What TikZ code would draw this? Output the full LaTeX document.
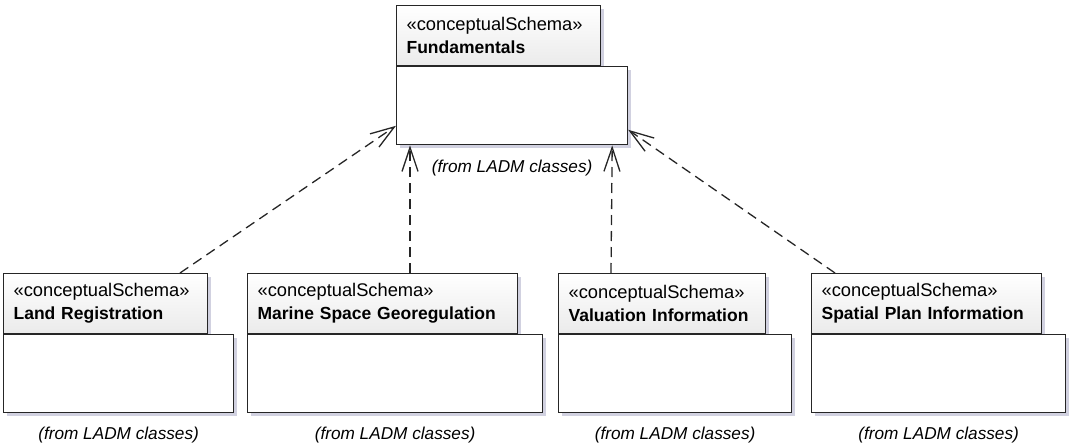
\documentclass[tikz,border=0pt]{standalone}
\usepackage{fontspec}
\setmainfont{Liberation Sans}
\usetikzlibrary{arrows.meta,shadows}

\begin{document}
\begin{tikzpicture}[x=1pt,y=-1pt]

    \tikzset{
      tab/.style={
        draw=black!85,
        line width=1.2pt,
        anchor=north west,
        align=left,
        text width=#1,
        inner xsep=10pt,
        inner ysep=0pt,
        minimum height=60pt,
        top color=white,
        bottom color=gray!16,
        drop shadow={shadow xshift=3pt,shadow yshift=-3pt,fill=blue!20!gray!60,opacity=0.5},
        font=\fontsize{17.5}{23}\selectfont,
      },
      body/.style={
        draw=black!85,
        line width=1.2pt,
        anchor=north west,
        fill=white,
        inner sep=0pt,
        minimum width=#1,
        minimum height=78pt,
        drop shadow={shadow xshift=3pt,shadow yshift=-3pt,fill=blue!20!gray!60,opacity=0.5},
      },
      from/.style={
        anchor=base,
        font=\fontsize{17.2}{20}\selectfont\itshape,
      },
      dep/.style={
        draw=black!85,
        line width=1.3pt,
        dash pattern=on 10pt off 6pt,
        -{Straight Barb[length=24pt,width=16pt]},
      },
    }
    \newcommand{\stereo}{{\fontsize{18.3}{23}\selectfont«conceptualSchema»}}
    \useasboundingbox (0,0) rectangle (1070,446);

	% top package
	\node[tab=184pt] (fundtab) at (396,5) {\stereo\\\textbf{Fundamentals}};
	\node[body=231pt] (fundbody) at (fundtab.south west) {};
	\node[from] (fundfrom) at ([yshift=-27pt]fundbody.south) {(from LADM classes)};

	% lower packages
	\node[tab=184pt] (lrtab) at (3,273) {\stereo\\\textbf{Land Registration}};
	\node[body=230pt] (lrbody) at (lrtab.south west) {};
	\node[from] (lrfrom) at ([yshift=-26pt]lrbody.south) {(from LADM classes)};

	\node[tab=250pt] (mstab) at (247,273) {\stereo\\\textbf{Marine Space Georegulation}};
	\node[body=295pt] (msbody) at (mstab.south west) {};
	\node[from] (msfrom) at ([yshift=-26pt]msbody.south) {(from LADM classes)};

	\node[tab=187pt] (vitab) at (558,273) {\stereo\\\textbf{Valuation Information}};
	\node[body=233pt] (vibody) at (vitab.south west) {};
	\node[from] (vifrom) at ([yshift=-26pt]vibody.south) {(from LADM classes)};

	\node[tab=210pt] (sptab) at (811,273) {\stereo\\\textbf{Spatial Plan Information}};
	\node[body=254pt] (spbody) at (sptab.south west) {};
	\node[from] (spfrom) at ([yshift=-26pt]spbody.south) {(from LADM classes)};

	% dependencies
	\draw[dep] ([xshift=177pt]lrtab.north west) -- ([yshift=-20pt]fundbody.west);
	\draw[dep] ([xshift=163pt]mstab.north west) -- ([xshift=14pt]fundbody.south west);
	\draw[dep] ([xshift=53pt]vitab.north west) -- ([xshift=-16pt]fundbody.south east);
	\draw[dep] ([xshift=24pt]sptab.north west) -- ([yshift=-24pt]fundbody.east);

\end{tikzpicture}
\end{document}
